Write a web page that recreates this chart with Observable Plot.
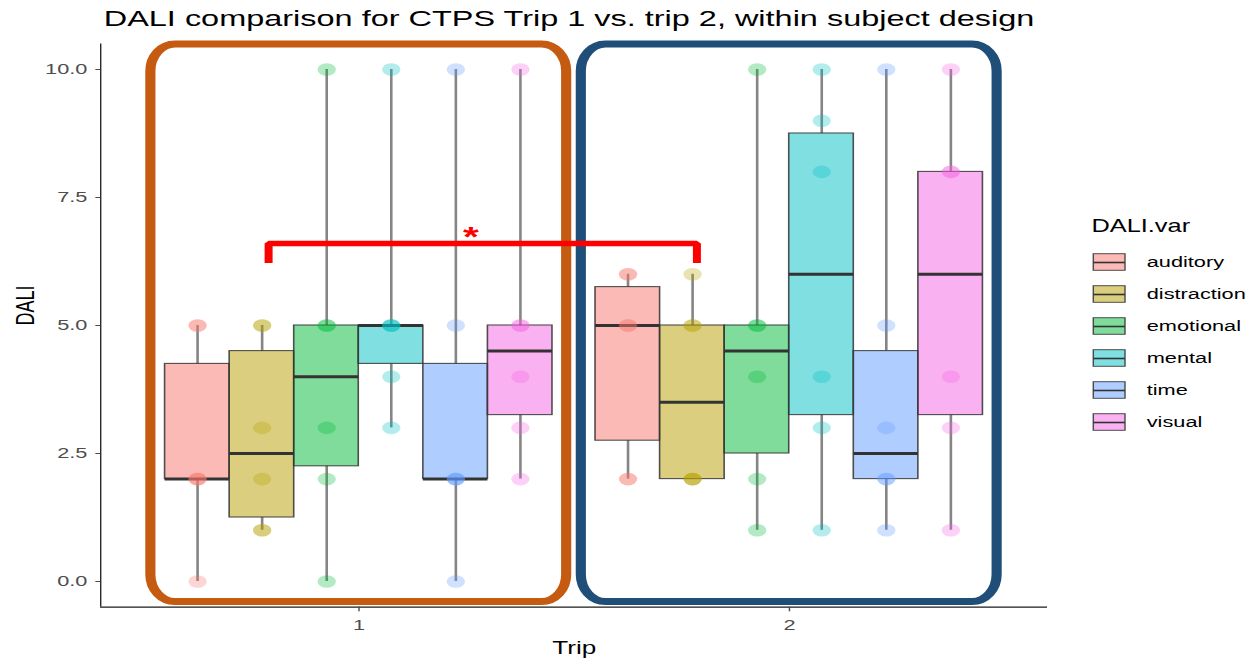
<!DOCTYPE html>
<html>
<head>
<meta charset="utf-8">
<script src="https://cdn.jsdelivr.net/npm/d3@7"></script>
<script src="https://cdn.jsdelivr.net/npm/@observablehq/plot@0.6"></script>
<style>
  html, body { margin: 0; padding: 0; background: #fff; }
  #chart { position: relative; width: 1256px; height: 659px; overflow: hidden; }
  #chart svg { position: absolute; display: block; max-width: none; background: transparent; }
</style>
</head>
<body>
<div id="chart"></div>
<script>
// ---- data -------------------------------------------------------------
const chartTitle = "DALI comparison for CTPS Trip 1 vs. trip 2, within subject design";
const trips = [1, 2];
const variables = ["auditory", "distraction", "emotional", "mental", "time", "visual"];
const variableColors = ["#F8766D", "#B79F00", "#00BA38", "#00BFC4", "#619CFF", "#F564E3"];

// DALI ratings per subject, one row per variable (same order as `variables`)
const trip1Scores = [
  [0, 2, 2, 2, 5, 5],
  [1, 1, 2, 3, 5, 5],
  [0, 2, 3, 5, 5, 10],
  [3, 4, 5, 5, 5, 10],
  [0, 2, 2, 2, 5, 10],
  [2, 3, 4, 5, 5, 10]
];
const trip2Scores = [
  [2, 2, 5, 5, 6, 6],
  [2, 2, 2, 5, 5, 6],
  [1, 2, 4, 5, 5, 10],
  [1, 3, 4, 8, 9, 10],
  [1, 2, 2, 3, 5, 10],
  [1, 3, 4, 8, 8, 10]
];

const yTicks = [0, 2.5, 5, 7.5, 10];
const xTicks = trips;

// trip highlight frames and significance bracket (data units)
const frameColors = ["#C55A11", "#1F4E79"];
const frameHalfWidth = 0.483;
const frameY = [-0.4, 10.49];
const bracketX = [0.79, 1.785];
const bracketY = [6.22, 6.6];
const bracketLabel = "*";
const bracketLabelX = 1.26;

// ---- layout -------------------------------------------------------------
const SX = 1.45;              // horizontal stretch of the drawing
const W = 1256, H = 659;
const font = "'Liberation Sans', Arial, Helvetica, sans-serif";
const dodgeWidth = 0.9;

// ---- derived box statistics -------------------------------------------
const scoresByTrip = [trip1Scores, trip2Scores];
const step = dodgeWidth / variables.length;
const boxes = [];
const points = [];
trips.forEach((trip, t) => {
  variables.forEach((variable, i) => {
    const vals = scoresByTrip[t][i].slice().sort(d3.ascending);
    const pos = trip + (i - (variables.length - 1) / 2) * step;
    boxes.push({
      trip, variable, pos,
      x1: pos - step / 2, x2: pos + step / 2,
      q1: d3.quantile(vals, 0.25),
      median: d3.quantile(vals, 0.5),
      q3: d3.quantile(vals, 0.75),
      lo: d3.min(vals), hi: d3.max(vals)
    });
    vals.forEach(value => points.push({trip, variable, pos, value}));
  });
});

const frames = trips.map((trip, i) => ({
  trip, x1: trip - frameHalfWidth, x2: trip + frameHalfWidth,
  y1: frameY[0], y2: frameY[1], color: frameColors[i]
}));
const bracketPath = [
  {x: bracketX[0], y: bracketY[0]},
  {x: bracketX[0], y: bracketY[1]},
  {x: bracketX[1], y: bracketY[1]},
  {x: bracketX[1], y: bracketY[0]}
];

// ---- main chart ---------------------------------------------------------
const main = Plot.plot({
  width: W / SX,
  height: H,
  marginLeft: 100 / SX,
  marginRight: (W - 1047) / SX,
  marginTop: 43.4,
  marginBottom: H - 606.6,
  style: {fontFamily: font, background: "transparent", overflow: "visible"},
  x: {domain: [0.4, 2.6]},
  y: {domain: [-0.5, 10.5]},
  color: {domain: variables, range: variableColors},
  marks: [
    // trip highlight frames
    ...frames.map(f => Plot.rect([f], {
      x1: "x1", x2: "x2", y1: "y1", y2: "y2",
      rx: 17, ry: 27, fill: "none", stroke: f.color, strokeWidth: 7
    })),
    // whiskers
    Plot.ruleX(boxes, {x: "pos", y1: "q3", y2: "hi", stroke: "#333", strokeOpacity: 0.6, strokeWidth: 1.8}),
    Plot.ruleX(boxes, {x: "pos", y1: "lo", y2: "q1", stroke: "#333", strokeOpacity: 0.6, strokeWidth: 1.8}),
    // boxes
    Plot.rect(boxes, {
      x1: "x1", x2: "x2", y1: "q1", y2: "q3",
      fill: "variable", fillOpacity: 0.5, stroke: "#333", strokeOpacity: 0.85, strokeWidth: 1.1
    }),
    // medians
    Plot.ruleY(boxes, {y: "median", x1: "x1", x2: "x2", stroke: "#333", strokeWidth: 3}),
    // individual ratings
    Plot.dot(points, {x: "pos", y: "value", fill: "variable", fillOpacity: 0.3, r: 6.3}),
    // axes
    Plot.ruleX([0.4], {stroke: "#1a1a1a", strokeWidth: 0.9}),
    Plot.ruleY([-0.5], {stroke: "#1a1a1a", strokeWidth: 1.3}),
    Plot.axisY({ticks: yTicks, tickFormat: ".1f", tickSize: 3.2, tickPadding: 6,
      fontSize: 15, color: "#4d4d4d", label: null}),
    Plot.axisX({ticks: xTicks, tickFormat: "d", tickSize: 4.7, tickPadding: 7.8,
      fontSize: 15, color: "#4d4d4d", label: null}),
    Plot.text(["Trip"], {text: d => d, frameAnchor: "bottom", lineAnchor: "middle",
      dy: 41.4, fontSize: 18, fill: "#000"}),
    Plot.text(["DALI"], {text: d => d, frameAnchor: "left", lineAnchor: "middle", rotate: -90,
      dx: -75 / SX, fontSize: 18, fill: "#000"}),
    Plot.text([chartTitle], {text: d => d, frameAnchor: "top-left", textAnchor: "start",
      lineAnchor: "middle", dx: 3 / SX, dy: -25.4, fontSize: 22.4, fill: "#000"}),
    // significance bracket
    Plot.line(bracketPath, {x: "x", y: "y", stroke: "#ff0000", strokeWidth: 5.5,
      strokeLinejoin: "miter", strokeLinecap: "butt"}),
    Plot.text([bracketLabel], {text: d => d, x: bracketLabelX, y: bracketY[1], dy: -7,
      fill: "#ff0000", fontSize: 28, fontWeight: "bold"})
  ]
});

// ---- legend -------------------------------------------------------------
const legendLeft = 1085, legendTop = 192;
const legendW = W - legendLeft, legendH = 256;
const rowH = 32;
const legend = Plot.plot({
  width: legendW / SX,
  height: legendH,
  marginLeft: 0, marginRight: 0,
  marginTop: 54,
  marginBottom: legendH - 54 - rowH * variables.length,
  style: {fontFamily: font, background: "transparent", overflow: "visible"},
  x: {domain: [0, 1], range: [(1093.3 - legendLeft) / SX, (1125 - legendLeft) / SX], axis: null},
  y: {domain: variables, padding: 0, axis: null},
  color: {domain: variables, range: variableColors},
  marks: [
    Plot.ruleX(variables, {x: 0.5, y: d => d, insetTop: 3, insetBottom: 3,
      stroke: "#333", strokeOpacity: 0.7, strokeWidth: 1.1}),
    Plot.barX(variables, {x1: 0, x2: 1, y: d => d, fill: d => d, fillOpacity: 0.5,
      stroke: "#333", strokeOpacity: 0.85, strokeWidth: 1, insetTop: 7.7, insetBottom: 7.7}),
    Plot.ruleY(variables, {y: d => d, x1: 0, x2: 1, stroke: "#333", strokeWidth: 1.6}),
    Plot.text(variables, {y: d => d, x: 1, text: d => d, textAnchor: "start",
      dx: (1146 - 1125) / SX, fontSize: 15, fill: "#000"}),
    Plot.text(["DALI.var"], {text: d => d, frameAnchor: "top-left", textAnchor: "start",
      lineAnchor: "middle", dx: 5.7 / SX, dy: -20.5, fontSize: 17.5, fill: "#000"})
  ]
});

function stretch(svg, left, top, w, h) {
  svg.setAttribute("width", w);
  svg.setAttribute("height", h);
  svg.setAttribute("preserveAspectRatio", "none");
  svg.style.left = left + "px";
  svg.style.top = top + "px";
  svg.style.width = w + "px";
  svg.style.height = h + "px";
  svg.style.maxWidth = "none";
}
stretch(main, 0, 0, W, H);
stretch(legend, legendLeft, legendTop, legendW, legendH);

const chart = document.getElementById("chart");
chart.appendChild(main);
chart.appendChild(legend);
</script>
</body>
</html>
